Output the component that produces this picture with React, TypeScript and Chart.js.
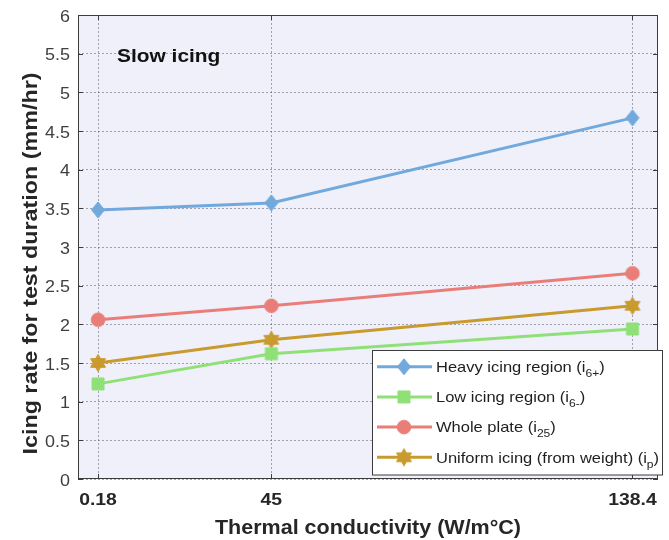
import React, { useEffect, useRef } from 'react';
import { Chart, registerables } from 'chart.js';

Chart.register(...registerables);

// Thermal conductivity of the plate material (W/m°C)
const conductivity = [0.18, 45, 138.4];
const conductivityLabels = ['0.18', '45', '138.4'];

// Icing rate over the test duration (mm/hr)
const heavyIcing = [3.48, 3.57, 4.67];
const lowIcing = [1.23, 1.62, 1.94];
const wholePlate = [2.06, 2.24, 2.66];
const uniformIcing = [1.5, 1.8, 2.24];

const rateTicks = [0, 0.5, 1, 1.5, 2, 2.5, 3, 3.5, 4, 4.5, 5, 5.5, 6];
const rateTickLabels = ['0', '0.5', '1', '1.5', '2', '2.5', '3', '3.5', '4', '4.5', '5', '5.5', '6'];

type MarkerKind = 'diamond' | 'square' | 'circle' | 'hexagram';

interface Series {
  name: string;
  sub: string;
  values: number[];
  color: string;
  marker: MarkerKind;
}

const series: Series[] = [
  { name: 'Heavy icing region (i', sub: '6+', values: heavyIcing, color: '#72A9DC', marker: 'diamond' },
  { name: 'Low icing region (i', sub: '6-', values: lowIcing, color: '#90E078', marker: 'square' },
  { name: 'Whole plate (i', sub: '25', values: wholePlate, color: '#E97E79', marker: 'circle' },
  { name: 'Uniform icing (from weight) (i', sub: 'p', values: uniformIcing, color: '#C99A2E', marker: 'hexagram' },
];

const FONT = '"Liberation Sans", Arial, Helvetica, sans-serif';
const AXIS_BG = '#F0F0FB';
const BOX_COLOR = '#3C3C3C';
const GRID_COLOR = 'rgba(80, 80, 95, 0.5)';
// glyphs are set slightly wide, like the original plotting font
const STRETCH = 1.1;

function makeMarker(kind: MarkerKind, color: string): HTMLCanvasElement {
  const c = document.createElement('canvas');
  c.width = 20;
  c.height = 20;
  const g = c.getContext('2d')!;
  g.fillStyle = color;
  g.strokeStyle = color;
  g.lineWidth = 1;
  g.beginPath();
  if (kind === 'diamond') {
    g.moveTo(10, 2);
    g.lineTo(16.5, 10);
    g.lineTo(10, 18);
    g.lineTo(3.5, 10);
    g.closePath();
  } else if (kind === 'square') {
    g.rect(4, 4, 12, 12);
  } else if (kind === 'circle') {
    g.arc(10, 10, 6.8, 0, Math.PI * 2);
  } else {
    const R = 8.6;
    for (const start of [-90, 90]) {
      for (let k = 0; k < 3; k++) {
        const a = ((start + k * 120) * Math.PI) / 180;
        const px = 10 + R * Math.cos(a);
        const py = 10 + R * Math.sin(a);
        if (k === 0) g.moveTo(px, py);
        else g.lineTo(px, py);
      }
      g.closePath();
    }
  }
  g.fill('nonzero');
  g.stroke();
  return c;
}

function drawText(
  ctx: CanvasRenderingContext2D,
  s: string,
  x: number,
  y: number,
  font: string,
  color: string,
  align: CanvasTextAlign,
  sx: number = STRETCH,
) {
  ctx.save();
  ctx.translate(x, y);
  ctx.scale(sx, 1);
  ctx.font = font;
  ctx.fillStyle = color;
  ctx.textAlign = align;
  ctx.textBaseline = 'alphabetic';
  ctx.fillText(s, 0, 0);
  ctx.restore();
}

function textWidth(ctx: CanvasRenderingContext2D, s: string, font: string, sx: number = STRETCH) {
  ctx.save();
  ctx.font = font;
  const w = ctx.measureText(s).width * sx;
  ctx.restore();
  return w;
}

export default function App() {
  const canvasRef = useRef<HTMLCanvasElement | null>(null);

  useEffect(() => {
    const canvas = canvasRef.current;
    if (!canvas) return;
    const markers = series.map((s) => makeMarker(s.marker, s.color));

    const decorations = {
      id: 'decorations',
      beforeDraw(chart: Chart) {
        const { ctx, chartArea: a } = chart;
        ctx.save();
        ctx.fillStyle = '#FFFFFF';
        ctx.fillRect(0, 0, chart.width, chart.height);
        ctx.fillStyle = AXIS_BG;
        ctx.fillRect(a.left, a.top, a.right - a.left, a.bottom - a.top);
        ctx.restore();
      },
      afterDraw(chart: Chart) {
        const { ctx, chartArea: a } = chart;
        const xs = chart.scales.x;
        const ys = chart.scales.y;

        // axes box with inward tick marks
        ctx.save();
        ctx.strokeStyle = BOX_COLOR;
        ctx.lineWidth = 1;
        ctx.strokeRect(Math.round(a.left) + 0.5, Math.round(a.top) + 0.5, Math.round(a.right - a.left) - 1, Math.round(a.bottom - a.top) - 1);
        ctx.beginPath();
        ys.ticks.forEach((t) => {
          const py = Math.round(ys.getPixelForValue(t.value)) + 0.5;
          ctx.moveTo(a.left, py);
          ctx.lineTo(a.left + 5, py);
          ctx.moveTo(a.right, py);
          ctx.lineTo(a.right - 5, py);
        });
        xs.ticks.forEach((t) => {
          const px = Math.round(xs.getPixelForValue(t.value)) + 0.5;
          ctx.moveTo(px, a.bottom);
          ctx.lineTo(px, a.bottom - 5);
          ctx.moveTo(px, a.top);
          ctx.lineTo(px, a.top + 5);
        });
        ctx.stroke();
        ctx.restore();

        // tick labels
        ys.ticks.forEach((t, i) => {
          const py = ys.getPixelForValue(t.value);
          drawText(ctx, rateTickLabels[i], a.left - 8, py + 6.5, `16px ${FONT}`, '#404040', 'right', 1.12);
        });
        xs.ticks.forEach((t, i) => {
          const px = xs.getPixelForValue(t.value);
          drawText(ctx, conductivityLabels[i], px, a.bottom + 26, `bold 17px ${FONT}`, '#262626', 'center', 1.14);
        });

        // axis titles
        drawText(ctx, 'Thermal conductivity (W/m°C)', (a.left + a.right) / 2, a.bottom + 55, `bold 20px ${FONT}`, '#262626', 'center', 1.075);
        ctx.save();
        ctx.translate(37, 263.5);
        ctx.rotate(-Math.PI / 2);
        drawText(ctx, 'Icing rate for test duration (mm/hr)', 0, 0, `bold 21px ${FONT}`, '#262626', 'center', 1.11);
        ctx.restore();

        // panel label
        drawText(ctx, 'Slow icing', a.left + 39, a.top + 47, `bold 19px ${FONT}`, '#111111', 'left', 1.1);

        // legend
        const lx = 372.5;
        const ly = 350.5;
        const lw = 290;
        const lh = 124.5;
        ctx.save();
        ctx.fillStyle = '#FFFFFF';
        ctx.fillRect(lx, ly, lw, lh);
        ctx.strokeStyle = BOX_COLOR;
        ctx.lineWidth = 1;
        ctx.strokeRect(lx, ly, lw, lh);
        ctx.restore();
        const mainFont = `15px ${FONT}`;
        const subFont = `11px ${FONT}`;
        series.forEach((s, i) => {
          const ry = 366.7 + i * 30.2;
          ctx.save();
          ctx.strokeStyle = s.color;
          ctx.lineWidth = 3;
          ctx.beginPath();
          ctx.moveTo(377, ry);
          ctx.lineTo(432, ry);
          ctx.stroke();
          ctx.drawImage(markers[i], 404 - 10, ry - 10);
          ctx.restore();
          const tx = 436;
          const by = ry + 5.2;
          drawText(ctx, s.name, tx, by, mainFont, '#1E1E1E', 'left');
          const w1 = textWidth(ctx, s.name, mainFont);
          drawText(ctx, s.sub, tx + w1, by + 5, subFont, '#1E1E1E', 'left');
          const w2 = textWidth(ctx, s.sub, subFont);
          drawText(ctx, ')', tx + w1 + w2, by, mainFont, '#1E1E1E', 'left');
        });
      },
    };

    const chart = new Chart(canvas, {
      type: 'line',
      data: {
        datasets: series.map((s, i) => ({
          label: s.name + s.sub + ')',
          data: conductivity.map((x, k) => ({ x, y: s.values[k] })),
          borderColor: s.color,
          backgroundColor: s.color,
          borderWidth: 3,
          pointStyle: markers[i],
          pointRadius: 8,
          pointHoverRadius: 8,
          tension: 0,
          fill: false,
        })),
      },
      options: {
        responsive: false,
        animation: false,
        devicePixelRatio: 1,
        events: [],
        layout: { padding: { left: 0, right: 5, top: 15, bottom: 0 } },
        plugins: {
          legend: { display: false },
          tooltip: { enabled: false },
          title: { display: false },
        },
        scales: {
          x: {
            type: 'linear',
            min: -5,
            max: 145,
            afterBuildTicks: (scale: any) => {
              scale.ticks = conductivity.map((v) => ({ value: v }));
            },
            afterFit: (scale: any) => {
              scale.height = 61;
            },
            ticks: { display: false },
            grid: { color: GRID_COLOR, lineWidth: 1, drawTicks: false },
            border: { display: false, dash: [2, 2] },
          },
          y: {
            type: 'linear',
            min: 0,
            max: 6,
            afterBuildTicks: (scale: any) => {
              scale.ticks = rateTicks.map((v) => ({ value: v }));
            },
            afterFit: (scale: any) => {
              scale.width = 78;
            },
            ticks: { display: false },
            grid: { color: GRID_COLOR, lineWidth: 1, drawTicks: false },
            border: { display: false, dash: [2, 2] },
          },
        },
      },
      plugins: [decorations],
    });

    return () => {
      chart.destroy();
    };
  }, []);

  return (
    <div style={{ position: 'fixed', left: 0, top: 0, width: 669, height: 540 }}>
      <canvas ref={canvasRef} width={669} height={540} style={{ display: 'block', width: 669, height: 540 }} />
    </div>
  );
}
